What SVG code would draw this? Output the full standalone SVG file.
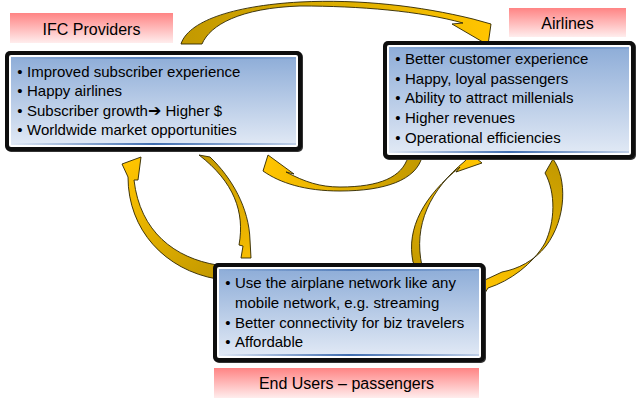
<svg xmlns="http://www.w3.org/2000/svg" width="640" height="406" viewBox="0 0 640 406">
<defs>
<linearGradient id="pink" x1="0" y1="0" x2="0" y2="1"><stop offset="0" stop-color="#ff8484"/><stop offset="1" stop-color="#ffeded"/></linearGradient>
<linearGradient id="blue" x1="0" y1="0" x2="0" y2="1"><stop offset="0" stop-color="#8eadd8"/><stop offset="1" stop-color="#e1e9f5"/></linearGradient>
<linearGradient id="edge" x1="0" y1="0" x2="1" y2="0"><stop offset="0" stop-color="#3f6db0" stop-opacity="0"/><stop offset="0.5" stop-color="#3f6db0"/><stop offset="1" stop-color="#3f6db0" stop-opacity="0.2"/></linearGradient>
<linearGradient id="g1" gradientUnits="userSpaceOnUse" x1="190" y1="40" x2="485" y2="35"><stop offset="0" stop-color="#c49a00"/><stop offset="0.5" stop-color="#dcae00"/><stop offset="1" stop-color="#ffc400"/></linearGradient>
<linearGradient id="g2" gradientUnits="userSpaceOnUse" x1="415" y1="160" x2="268" y2="165"><stop offset="0" stop-color="#c49a00"/><stop offset="1" stop-color="#ffc400"/></linearGradient>
<linearGradient id="g3" gradientUnits="userSpaceOnUse" x1="217" y1="272" x2="132" y2="160"><stop offset="0" stop-color="#c49a00"/><stop offset="1" stop-color="#ffc400"/></linearGradient>
<linearGradient id="g4" gradientUnits="userSpaceOnUse" x1="204" y1="155" x2="246" y2="258"><stop offset="0" stop-color="#c49a00"/><stop offset="1" stop-color="#f6bc00"/></linearGradient>
<linearGradient id="g5" gradientUnits="userSpaceOnUse" x1="418" y1="268" x2="478" y2="160"><stop offset="0" stop-color="#c49a00"/><stop offset="1" stop-color="#ffc400"/></linearGradient>
<linearGradient id="g6" gradientUnits="userSpaceOnUse" x1="553" y1="165" x2="478" y2="290"><stop offset="0" stop-color="#c49a00"/><stop offset="1" stop-color="#ffc400"/></linearGradient>
</defs>
<style>
text{font-family:"Liberation Sans",Arial,sans-serif;fill:#000}
.body{font-size:15px}
.bul{font-size:15px;text-anchor:middle}
.lbl{font-size:16px;text-anchor:middle}
.frame{fill:#0e0e0e}
.shadow{fill:#333}
.arrow{stroke:#2e2600;stroke-width:0.9;stroke-linejoin:round}
</style>

<g id="connectors">
<path id="a-ifc-airlines" class="arrow" fill="url(#g1)" d="M181,44 C188,22 230,6 300,2 C360,-1 420,6 473,19 L491,24 L488,45 L452,24 L463,23 C420,11 360,6 300,6 C240,8 210,25 202,44 Z"/>
<path id="a-airlines-ifc" class="arrow" fill="url(#g2)" d="M422,157 C416,180 385,191 340,191 C305,191 280,183 263,171 L268,155 L294,174 L286,172 C305,182 320,187 340,187 C380,187 402,177 408,157 Z"/>
<path id="a-users-ifc" class="arrow" fill="url(#g3)" d="M217,265 C175,258 140,232 134,180 L138,180 L141,157 L122,164 L128,177 C128,230 165,270 217,279 Z"/>
<path id="a-ifc-users" class="arrow" fill="url(#g4)" d="M199,155 L210,157 C232,178 249,208 250,240 L251,258 L241,258 L243,246 L239,245 C245,212 234,182 199,155 Z"/>
<path id="a-users-airlines" class="arrow" fill="url(#g5)" d="M413,262 C406,228 424,196 460,167 L456,172 L482,163 L471,154 L465,161 C430,190 413,225 422,266 L419,271 Z"/>
<path id="a-airlines-users" class="arrow" fill="url(#g6)" d="M553,159 C567,178 567,218 546,246 C534,261 518,269 502,272 L472,286 L482,298 L488,288 C510,281 533,264 545,243 C555,222 556,193 545,173 Z"/>
</g>

<g id="ifc-label">
<rect x="10" y="13" width="163" height="30" fill="url(#pink)"/>
<text class="lbl" x="91.5" y="35">IFC Providers</text>
</g>

<g id="ifc-box">
<rect class="shadow" x="6" y="52" width="297" height="100" rx="5"/>
<rect class="frame" x="5" y="51" width="297" height="100" rx="5"/>
<rect x="9" y="55" width="289" height="92" rx="2" fill="#fff"/>
<rect x="11" y="57" width="285" height="88" fill="url(#blue)"/>
<rect x="11" y="57" width="285" height="2" fill="url(#edge)" opacity="0.7"/>
<rect x="11" y="143" width="285" height="2" fill="url(#edge)"/>
<text class="bul" x="20" y="77">•</text><text class="body" x="27" y="77">Improved subscriber experience</text>
<text class="bul" x="20" y="96">•</text><text class="body" x="27" y="96">Happy airlines</text>
<text class="bul" x="20" y="116">•</text><text class="body" x="27" y="116">Subscriber growth<tspan font-family="DejaVu Sans" font-size="16">➔</tspan> Higher $</text>
<text class="bul" x="20" y="135">•</text><text class="body" x="27" y="135">Worldwide market opportunities</text>
</g>

<g id="airlines-label">
<rect x="509" y="8" width="117" height="29" fill="url(#pink)"/>
<text class="lbl" x="567.5" y="29">Airlines</text>
</g>

<g id="airlines-box">
<rect class="shadow" x="384" y="42" width="252" height="118" rx="5"/>
<rect class="frame" x="383" y="41" width="252" height="118" rx="5"/>
<rect x="387" y="45" width="244" height="110" rx="2" fill="#fff"/>
<rect x="389" y="47" width="240" height="106" fill="url(#blue)"/>
<rect x="389" y="47" width="240" height="2" fill="url(#edge)" opacity="0.7"/>
<rect x="389" y="151" width="240" height="2" fill="url(#edge)"/>
<text class="bul" x="398" y="64">•</text><text class="body" x="405" y="64">Better customer experience</text>
<text class="bul" x="398" y="83.5">•</text><text class="body" x="405" y="83.5">Happy, loyal passengers</text>
<text class="bul" x="398" y="103">•</text><text class="body" x="405" y="103">Ability to attract millenials</text>
<text class="bul" x="398" y="123">•</text><text class="body" x="405" y="123">Higher revenues</text>
<text class="bul" x="398" y="142.5">•</text><text class="body" x="405" y="142.5">Operational efficiencies</text>
</g>

<g id="users-box">
<rect class="shadow" x="214" y="264" width="272" height="99" rx="5"/>
<rect class="frame" x="213" y="263" width="272" height="99" rx="5"/>
<rect x="217" y="267" width="264" height="91" rx="2" fill="#fff"/>
<rect x="219" y="269" width="260" height="87" fill="url(#blue)"/>
<rect x="219" y="269" width="260" height="2" fill="url(#edge)" opacity="0.7"/>
<rect x="219" y="354" width="260" height="2" fill="url(#edge)"/>
<text class="bul" x="228" y="288">•</text><text class="body" x="235" y="288">Use the airplane network like any</text>
<text class="body" x="235" y="307.5">mobile network, e.g. streaming</text>
<text class="bul" x="228" y="327.5">•</text><text class="body" x="235" y="327.5">Better connectivity for biz travelers</text>
<text class="bul" x="228" y="347">•</text><text class="body" x="235" y="347">Affordable</text>
</g>

<g id="users-label">
<rect x="214" y="368" width="265" height="30" fill="url(#pink)"/>
<text class="lbl" x="346.5" y="389">End Users – passengers</text>
</g>
</svg>
